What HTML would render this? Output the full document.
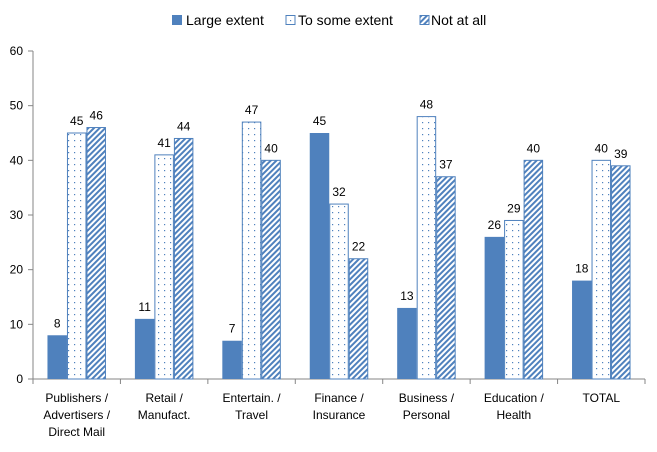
<!DOCTYPE html>
<html><head><meta charset="utf-8"><style>
body{margin:0;background:#fff;}
svg{display:block;font-family:"Liberation Sans",sans-serif;}
</style></head><body>
<svg id="chart" width="657" height="452">
<defs>
<pattern id="dots" width="6" height="6" patternUnits="userSpaceOnUse"><rect width="6" height="6" fill="#fff"/><rect x="2" y="2" width="1.2" height="1.2" fill="#4f81bd"/></pattern>
<pattern id="hatch" width="4" height="4" patternUnits="userSpaceOnUse" patternTransform="rotate(45)"><rect width="4" height="4" fill="#fff"/><rect width="2" height="4" fill="#4f81bd"/></pattern>
</defs>
<g id="legend" font-size="14" fill="#000">
<g><rect x="172" y="15" width="10" height="10" fill="#4f81bd"/><text x="186" y="25">Large extent</text></g>
<g><rect x="286" y="15.5" width="9" height="9" fill="url(#dots)" stroke="#4f81bd"/><text x="298" y="25">To some extent</text></g>
<g><rect x="420" y="15.5" width="9" height="9" fill="url(#hatch)" stroke="#4f81bd"/><text x="431" y="25">Not at all</text></g>
</g>
<g id="axes"></g>
<g id="bars"></g>
</svg>
<script>
const categories=[["Publishers /","Advertisers /","Direct Mail"],["Retail /","Manufact."],["Entertain. /","Travel"],["Finance /","Insurance"],["Business /","Personal"],["Education /","Health"],["TOTAL"]];
const largeExtent=[8,11,7,45,13,26,18];
const someExtent=[45,41,47,32,48,29,40];
const notAtAll=[46,44,40,22,37,40,39];
const yTicks=[0,10,20,30,40,50,60];
const NS="http://www.w3.org/2000/svg";
const x0=33,x1=645,yB=379,yT=51,yMax=60;
const bw=(x1-x0)/categories.length, barW=19.5;
const y=v=>yB-(v/yMax)*(yB-yT);
const xc=i=>x0+bw*(i+0.5);
function mk(t,a,p){const e=document.createElementNS(NS,t);for(const k in a)e.setAttribute(k,a[k]);p.appendChild(e);return e;}
const ax=document.getElementById('axes'), bars=document.getElementById('bars');
const yl=mk('line',{x1:x0,y1:yT,x2:x0,y2:yB,stroke:'#868686'},ax);


yTicks.forEach(t=>{
 mk('line',{x1:x0-5,x2:x0,y1:y(t),y2:y(t),stroke:'#868686'},ax);
 const tx=mk('text',{x:x0-10,y:y(t)+4,'text-anchor':'end','font-size':12},ax);
 tx.textContent=t;
 
 
});
const xl=mk('line',{x1:x0,y1:yB,x2:x1,y2:yB,stroke:'#868686'},ax);


for(let i=0;i<=categories.length;i++)mk('line',{x1:x0+bw*i,x2:x0+bw*i,y1:yB,y2:yB+5,stroke:'#868686'},ax);
categories.forEach((c,i)=>{
 const tx=mk('text',{x:xc(i),y:yB+23,'text-anchor':'middle','font-size':12},ax);
 
 
 c.forEach((l,j)=>{const s=mk('tspan',{x:xc(i),dy:j?17:0},tx);s.textContent=l;});
});
const series=[[largeExtent,'#4f81bd','none','bar-large-extent'],[someExtent,'url(#dots)','#4f81bd','bar-to-some-extent'],[notAtAll,'url(#hatch)','#4f81bd','bar-not-at-all']];
series.forEach(([vals,fill,stroke,name],s)=>{
 vals.forEach((v,i)=>{
  const bx=xc(i)-1.5*barW+s*barW;
  const r=mk('rect',{x:bx+(stroke!=='none'?0.5:0),y:y(v),width:barW-(stroke!=='none'?1:0),height:yB-y(v),fill:fill,stroke:stroke},bars);
  
  
  const t=mk('text',{x:bx+barW/2,y:y(v)-8,'text-anchor':'middle','font-size':12},bars);
  t.textContent=v;
  
  
 });
});
</script>
</body></html>
